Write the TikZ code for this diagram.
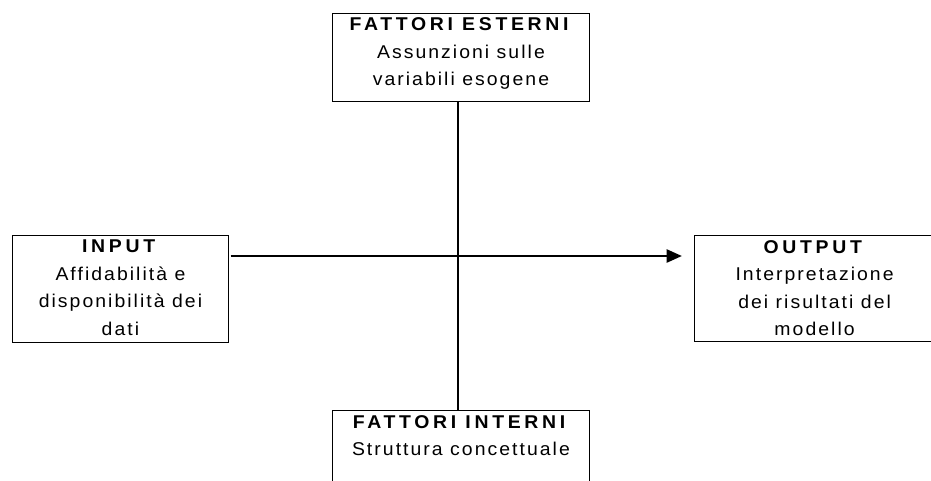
\documentclass[tikz,border=0pt]{standalone}
\usepackage{fontspec}
\setmainfont{Liberation Sans}[Ligatures=NoCommon, FakeStretch=1.05, LetterSpace=11, BoldFeatures={LetterSpace=20}]
\usetikzlibrary{arrows.meta}

\begin{document}
\begin{tikzpicture}[x=1pt,y=-1pt,
    box/.style={draw,line width=1.2pt,inner sep=0pt,anchor=north west},
    txt/.style={align=center,inner sep=0pt,anchor=north,yshift=-5pt,font=\fontsize{18.5}{27.5}\selectfont}]
      \useasboundingbox (0,0) rectangle (931,480);
      \draw
        (331.7,12.7) node[box,minimum width=257.3,minimum height=88] (esterni){}
        (11.7,235) node[box,minimum width=216.3,minimum height=106.7] (input){}
        (694,235) node[box,minimum width=240,minimum height=105.5] (output){}
        (331.7,410) node[box,minimum width=257.3,minimum height=100] (interni){};
      \coordinate (axis) at (458,0);
      \coordinate (flow) at (0,256);
      % testi dei riquadri
      \node[txt] (esterni-t) at (esterni.north) {\textbf{FATTORI ESTERNI}\\Assunzioni sulle\\variabili esogene};
      \node[txt] (input-t) at (input.north) {\textbf{INPUT}\\Affidabilità e\\disponibilità dei\\dati};
      \node[txt] (output-t) at (output.north) {\textbf{OUTPUT}\\Interpretazione\\dei risultati del\\modello};
      \node[txt] (interni-t) at (interni.north) {\textbf{FATTORI INTERNI}\\Struttura concettuale};
      % assi
      \draw[line width=1.2pt] (esterni.south -| axis) -- (interni.north -| axis);
      \draw[line width=2.8pt,-{Triangle[length=15.5pt,width=13pt]},shorten <=1.5pt,shorten >=12pt]
        (input.east |- flow) -- (output.west |- flow);
    \end{tikzpicture}
\end{document}
